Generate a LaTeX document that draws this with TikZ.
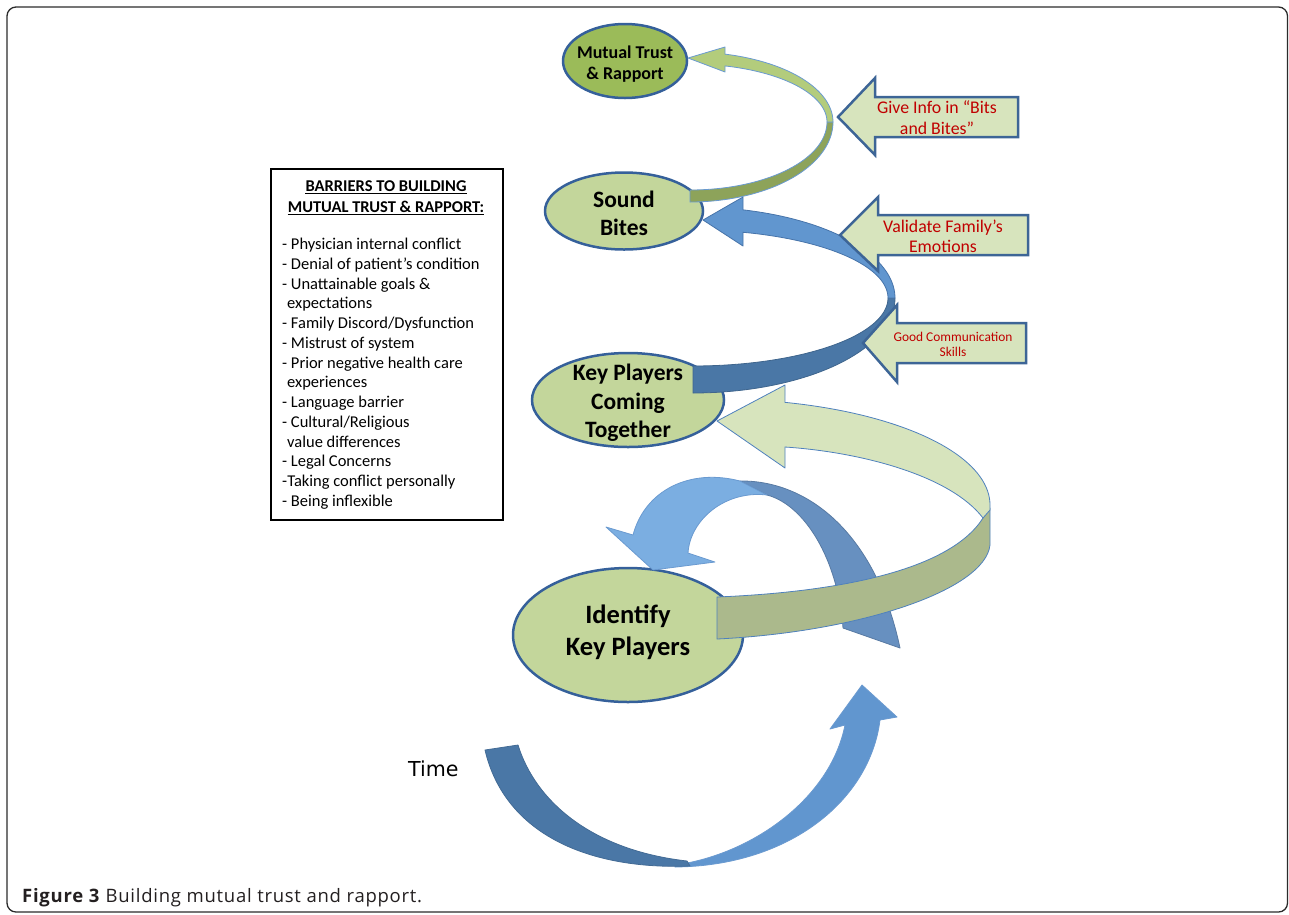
\documentclass[tikz,border=0pt]{standalone}
\usepackage{fontspec}
\setmainfont{Carlito}
\newfontfamily\captionfont[LetterSpace=4]{Open Sans}
\newfontfamily\timefont{DejaVu Sans}
\usetikzlibrary{shapes.geometric}

% palette
\definecolor{ringedge}{HTML}{35609A}
\definecolor{trustfill}{HTML}{9BBB59}
\definecolor{stagefill}{HTML}{C3D69B}
\definecolor{tipfill}{HTML}{D7E4BD}
\definecolor{tipedge}{HTML}{3D6596}
\definecolor{tipred}{HTML}{C00000}
\definecolor{oliveband}{HTML}{8DA35A}
\definecolor{leafband}{HTML}{B3CC7C}
\definecolor{paleband}{HTML}{D7E4BD}
\definecolor{sageband}{HTML}{ABB98C}
\definecolor{skyband}{HTML}{6196CF}
\definecolor{navyband}{HTML}{4A77A6}
\definecolor{loopsky}{HTML}{7BAEE1}
\definecolor{loopsteel}{HTML}{6790C0}
\definecolor{bandline}{HTML}{4F81BD}
\definecolor{softline}{HTML}{6A9AD0}
\definecolor{framegray}{HTML}{2B2B2B}
\definecolor{captiontext}{HTML}{231F20}

\begin{document}
\begin{tikzpicture}[x=1pt,y=-1pt,
  stage/.style={ellipse, draw=ringedge, line width=2.5pt, fill=stagefill, inner sep=0pt},
  stagetext/.style={align=center, inner sep=0pt, text=black},
  tipbox/.style={draw=tipedge, line width=2.5pt, fill=tipfill, line join=miter},
  tiptext/.style={align=center, inner sep=0pt, text=tipred},
  band/.style={draw=bandline, line width=0.8pt, line join=round},
  barline/.style={anchor=base west, inner sep=0pt, font=\fontsize{16.5}{20}\selectfont},
]
\useasboundingbox (0,0) rectangle (1289,914);

% outer frame
\draw[framegray, line width=1.3pt, rounded corners=9pt] (7,7) rectangle (1287.5,912);

% barriers panel
\node[draw=black, line width=1.8pt, minimum width=232pt, minimum height=351pt,
      anchor=north west, inner sep=0pt] (barriers) at (270,168) {};
\node[anchor=base, inner sep=0pt, font=\fontsize{16.5}{20}\selectfont\bfseries] (title1) at (386,191) {BARRIERS TO BUILDING};
\node[anchor=base, inner sep=0pt, font=\fontsize{16.5}{20}\selectfont\bfseries] (title2) at (386,212) {MUTUAL TRUST \& RAPPORT:};
\draw[line width=1.3pt] ([yshift=-2.5pt]title1.base west) -- ([yshift=-2.5pt]title1.base east);
\draw[line width=1.3pt] ([yshift=-2.5pt]title2.base west) -- ([yshift=-2.5pt]title2.base east);
\foreach \txt [count=\i from 0] in {
  {- Physician internal conflict},
  {- Denial of patient’s condition},
  {- Unattainable goals \&},
  {\hspace*{5pt}expectations},
  {- Family Discord/Dysfunction},
  {- Mistrust of system},
  {- Prior negative health care},
  {\hspace*{5pt}experiences},
  {- Language barrier},
  {- Cultural/Religious},
  {\hspace*{5pt}value differences},
  {- Legal Concerns},
  {-Taking conflict personally},
  {- Being inflexible}}
  \node[barline] (bar\i) at (282,{249.5+19.77*\i}) {\txt};

% stage ellipses
\node[stage, fill=trustfill, minimum width=124pt, minimum height=74pt] (trust) at (625,61) {};
\node[stage, minimum width=158pt, minimum height=77pt] (sound) at (624,211) {};
\node[stage, minimum width=192pt, minimum height=94pt] (keytogether) at (628,400) {};
\node[stage, minimum width=230pt, minimum height=134pt] (identify) at (628,635) {};

% loop arrow beside the first stage
\draw[band, draw=loopsteel!85!black, fill=loopsteel]
  (740,481) .. controls (805,480) and (875,530) .. (900,648)
  -- (843,628) .. controls (838,560) and (805,505) .. (767,495) -- cycle;
\draw[band, draw=softline, fill=loopsky]
  (740,481) .. controls (690,468) and (645,490) .. (633,535)
  -- (606,527) -- (653,570) -- (715,562) -- (688,553)
  .. controls (690,520) and (725,490) .. (767,495) -- cycle;

% ribbon: Identify Key Players -> Key Players Coming Together
\draw[band, fill=sageband]
  (717,597) .. controls (840,592) and (950,570) .. (983,518)
  -- (990,508) -- (990,545) .. controls (985,590) and (860,632) .. (717,639) -- cycle;
\draw[band, fill=paleband]
  plot[variable=\t, domain=0:-75.58, samples=40] ({717+273*cos(\t)},{505+106*sin(\t)})
  -- (785,385) -- (717,421) -- (785,468) -- (785,447)
  .. controls (860,452) and (950,475) .. (983,518) -- (990,510) -- cycle;

% ribbon: Key Players Coming Together -> Sound Bites
\draw[band, draw=navyband!85!black, fill=navyband]
  plot[variable=\t, domain=90:0, samples=40] ({693+202*cos(\t)},{298+95*sin(\t)})
  -- plot[variable=\t, domain=0:90, samples=40] ({693+195*cos(\t)},{298+68*sin(\t)}) -- cycle;
\draw[band, draw=bandline!90!black, fill=skyband]
  plot[variable=\t, domain=0:-75.67, samples=40] ({693+202*cos(\t)},{298+91*sin(\t)})
  -- (743,197) -- (703,220) -- (743,246)
  -- plot[variable=\t, domain=-75.14:0, samples=40] ({693+195*cos(\t)},{298+68*sin(\t)}) -- cycle;

% ribbon: Sound Bites -> Mutual Trust & Rapport
\draw[band, draw=softline, fill=oliveband]
  plot[variable=\t, domain=90:0, samples=40] ({690+143*cos(\t)},{122+80*sin(\t)})
  -- plot[variable=\t, domain=0:90, samples=40] ({690+137*cos(\t)},{122+68*sin(\t)}) -- cycle;
\draw[band, draw=softline, fill=leafband]
  plot[variable=\t, domain=0:-75.83, samples=40] ({690+143*cos(\t)},{122+70*sin(\t)})
  -- (725,47) -- (688,58) -- (725,72)
  -- plot[variable=\t, domain=-75.2:0, samples=40] ({690+137*cos(\t)},{122+58*sin(\t)}) -- cycle;

% prompts pointing at the ribbons
\draw[tipbox] (1018,97) -- (875,97) -- (875,78) -- (838,117) -- (875,155) -- (875,137) -- (1018,137) -- cycle;
\draw[tipbox] (1028,215) -- (878,215) -- (878,197) -- (840,235) -- (878,271) -- (878,255) -- (1028,255) -- cycle;
\draw[tipbox] (1026,323) -- (897,323) -- (897,305) -- (863,343) -- (897,382) -- (897,363) -- (1026,363) -- cycle;
\node[tiptext, font=\fontsize{17.8}{21}\selectfont] (tip1) at (937,118) {Give Info in “Bits\\and Bites”};
\node[tiptext, font=\fontsize{17.8}{20}\selectfont] (tip2) at (943,236) {Validate Family’s\\Emotions};
\node[tiptext, font=\fontsize{13.4}{15}\selectfont] (tip3) at (953,344) {Good Communication\\Skills};

% time arrow
\draw[band, draw=softline, fill=skyband]
  (675,865) .. controls (750,855) and (830,800) .. (845,725)
  -- (830,729) -- (862,685) -- (897,717) -- (880,720)
  .. controls (870,800) and (790,866) .. (675,867) -- cycle;
\draw[band, draw=navyband!90!black, fill=navyband]
  (485,750) .. controls (505,835) and (590,870) .. (690,866)
  -- (687,861) .. controls (590,850) and (535,800) .. (518,745) -- cycle;
\node[anchor=base west, inner sep=0pt, font=\timefont\fontsize{20.6}{25}\selectfont] (time) at (408,776) {Time};

% stage labels
\node[stagetext, font=\fontsize{18}{21}\selectfont\bfseries] (trustlabel) at ([yshift=-3pt]trust.center) {Mutual Trust\\\& Rapport};
\node[stagetext, font=\fontsize{23.5}{28}\selectfont\bfseries] (soundlabel) at ([yshift=-2pt]sound.center) {Sound\\Bites};
\node[stagetext, font=\fontsize{23.5}{28.5}\selectfont\bfseries] (keylabel) at ([yshift=-3pt]keytogether.center) {Key Players\\Coming\\Together};
\node[stagetext, font=\fontsize{26.5}{32}\selectfont\bfseries] (identifylabel) at ([yshift=3pt]identify.center) {Identify\\Key Players};

% caption
\node[anchor=base west, inner sep=0pt, text=captiontext, font=\captionfont\fontsize{18.5}{22}\selectfont] (caption) at (22,902)
  {\textbf{Figure 3} Building mutual trust and rapport.};
\end{tikzpicture}
\end{document}
